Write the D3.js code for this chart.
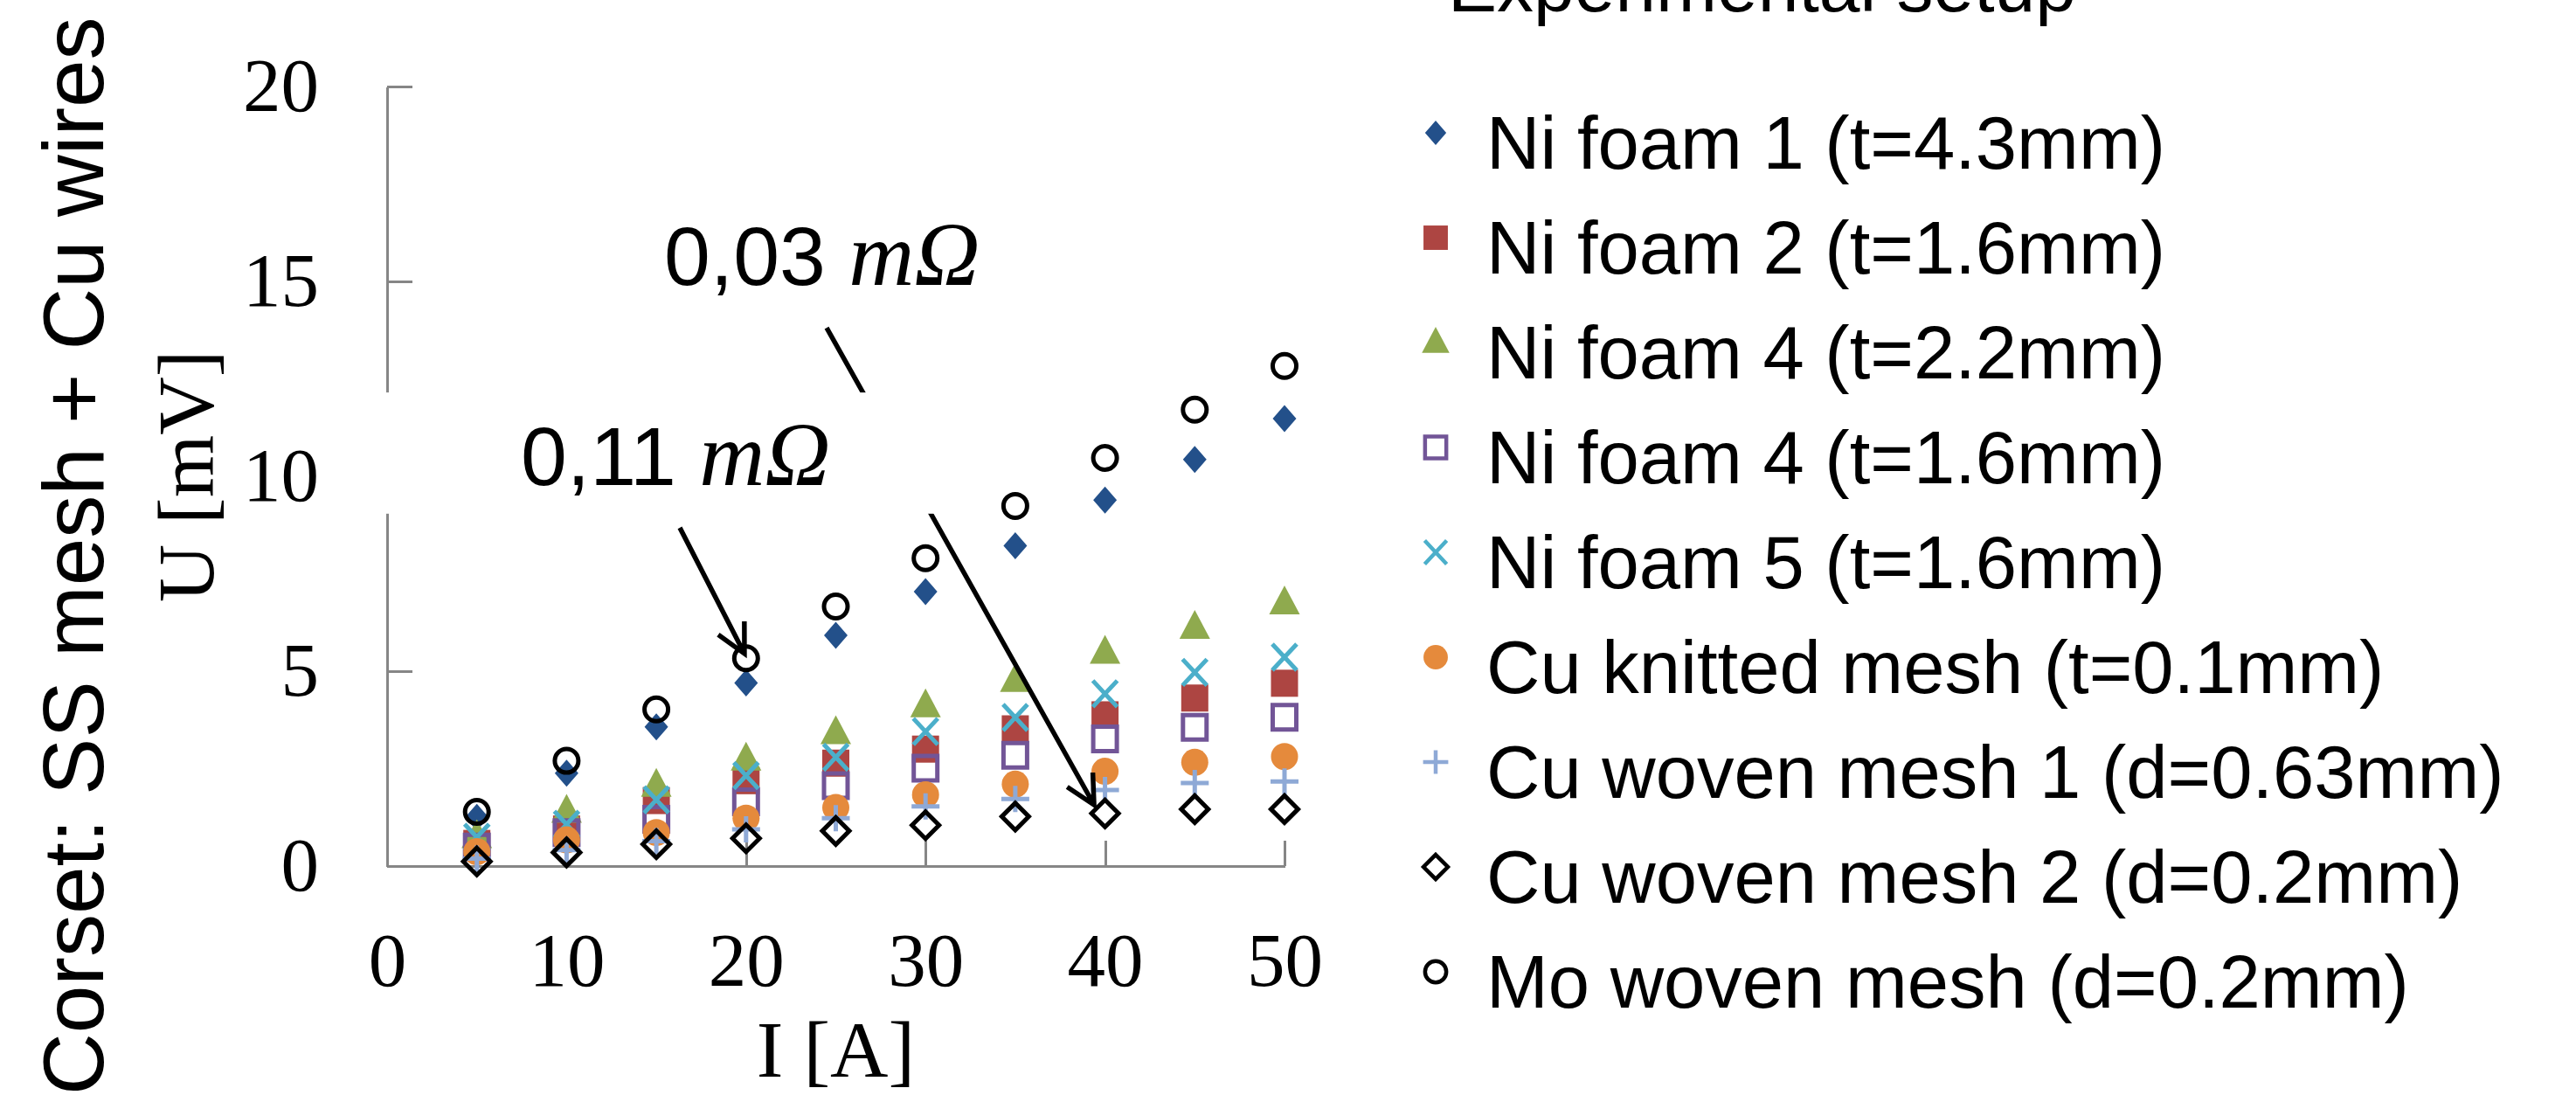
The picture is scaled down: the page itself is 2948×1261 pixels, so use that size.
<!DOCTYPE html>
<html lang="en">
<head>
	<meta charset="UTF-8">
	<title>U-I contact measurement</title>
	<style>
		body { margin: 0; background: #fff; }
		.axis path, .axis line {
			stroke: #868686;
			stroke-width: 3px;
			shape-rendering: crispEdges;
		}
		.sans { font-family: "Liberation Sans", Arial, sans-serif; }
		.serif { font-family: "Liberation Serif", "Times New Roman", serif; }
		.arrow { fill: none; stroke: #000; stroke-width: 5.5px; }
	</style>
	<script src="https://cdn.jsdelivr.net/npm/d3@7/dist/d3.min.js"></script>
</head>
<body>
	<div class="wrap"></div>
	<script>
	// measured current [A]
	var current = [5, 10, 15, 20, 25, 30, 35, 40, 45, 50];

	// measured voltage drop [mV], one array per sample
	var niFoam1    = [1.25, 2.38, 3.57, 4.70, 5.92, 7.04, 8.22, 9.39, 10.43, 11.48];
	var niFoam2    = [0.58, 0.95, 1.68, 2.19, 2.64, 3.00, 3.52, 3.88, 4.31, 4.69];
	var niFoam4a   = [0.75, 1.40, 2.07, 2.74, 3.42, 4.11, 4.76, 5.48, 6.12, 6.75];
	var niFoam4b   = [0.49, 0.86, 1.20, 1.65, 2.06, 2.51, 2.84, 3.26, 3.56, 3.82];
	var niFoam5    = [0.74, 1.07, 1.70, 2.32, 2.79, 3.45, 3.81, 4.42, 4.97, 5.36];
	var cuKnitted  = [0.37, 0.67, 0.86, 1.23, 1.50, 1.83, 2.10, 2.43, 2.66, 2.81];
	var cuWoven1   = [0.19, 0.41, 0.64, 0.94, 1.23, 1.53, 1.72, 1.95, 2.13, 2.17];
	var cuWoven2   = [0.12, 0.35, 0.56, 0.71, 0.90, 1.05, 1.27, 1.35, 1.46, 1.46];
	var moWoven    = [1.39, 2.70, 4.02, 5.33, 6.66, 7.90, 9.24, 10.47, 11.71, 12.83];

	var seriesNames = [
		"Ni foam 1 (t=4.3mm)",
		"Ni foam 2 (t=1.6mm)",
		"Ni foam 4 (t=2.2mm)",
		"Ni foam 4 (t=1.6mm)",
		"Ni foam 5 (t=1.6mm)",
		"Cu knitted mesh (t=0.1mm)",
		"Cu woven mesh 1 (d=0.63mm)",
		"Cu woven mesh 2 (d=0.2mm)",
		"Mo woven mesh (d=0.2mm)"
	];
	var xTicks = [0, 10, 20, 30, 40, 50];
	var yTicks = [0, 5, 10, 15, 20];
	var resistanceLabels = ["0,11", "0,03"];

	// marker look for each series (same order as seriesNames)
	var styles = [
		{shape: "diamond",     fill: "#23508A", stroke: "none"},
		{shape: "square",      fill: "#AD4542", stroke: "none"},
		{shape: "triangle",    fill: "#8FAA4E", stroke: "none"},
		{shape: "openSquare",  fill: "none",    stroke: "#725597"},
		{shape: "x",           fill: "none",    stroke: "#4BAFCA"},
		{shape: "circle",      fill: "#E58A3C", stroke: "none"},
		{shape: "plus",        fill: "none",    stroke: "#8EA9D6"},
		{shape: "openDiamond", fill: "none",    stroke: "#000"},
		{shape: "openCircle",  fill: "none",    stroke: "#000"}
	];

	var values = [niFoam1, niFoam2, niFoam4a, niFoam4b, niFoam5, cuKnitted, cuWoven1, cuWoven2, moWoven];
	var series = seriesNames.map(function(name, i) {
		return {
			name: name,
			style: styles[i],
			points: current.map(function(c, j) { return {i: c, u: values[i][j]}; })
		};
	});

	var W = 2948, H = 1261;
	var plot = {left: 443, right: 1470, top: 99, bottom: 991};

	var x = d3.scaleLinear().domain([0, 50]).range([plot.left, plot.right]);
	var y = d3.scaleLinear().domain([0, 20]).range([plot.bottom, plot.top]);

	// marker outlines centred on 0,0 ; s scales them (legend is a bit smaller)
	function shapePath(kind, s) {
		var p = d3.path();
		function m(a, b) { p.moveTo(a * s, b * s); }
		function l(a, b) { p.lineTo(a * s, b * s); }
		function circ(r) { p.moveTo(r * s, 0); p.arc(0, 0, r * s, 0, 2 * Math.PI); }
		switch (kind) {
			case "diamond":     m(0, -15.5); l(13.5, 0); l(0, 15.5); l(-13.5, 0); p.closePath(); break;
			case "square":      m(-15.5, -15.5); l(15.5, -15.5); l(15.5, 15.5); l(-15.5, 15.5); p.closePath(); break;
			case "triangle":    m(0, -20); l(17.5, 13); l(-17.5, 13); p.closePath(); break;
			case "openSquare":  m(-13.5, -14); l(13.5, -14); l(13.5, 14); l(-13.5, 14); p.closePath(); break;
			case "x":           m(-14, -15); l(14, 15); m(14, -15); l(-14, 15); break;
			case "circle":      circ(15.5); break;
			case "plus":        m(-16, 0); l(16, 0); m(0, -15); l(0, 15); break;
			case "openDiamond": m(0, -15.5); l(15.5, 0); l(0, 15.5); l(-15.5, 0); p.closePath(); break;
			case "openCircle":  circ(13.5); break;
		}
		return p.toString();
	}
	function strokeWidth(st) { return st.stroke === "none" ? 0 : 5; }

	var svg = d3.select(".wrap").append("svg")
		.attr("width", W)
		.attr("height", H)
		.style("background", "#fff");

	// Y axis, ticks pointing into the plot
	var yAxis = svg.append("g")
		.attr("class", "axis serif")
		.attr("transform", "translate(" + plot.left + ",0)")
		.call(d3.axisLeft(y).tickValues(yTicks).tickSize(-29).tickSizeOuter(0).tickPadding(78));
	yAxis.selectAll("text").attr("font-size", 87).attr("fill", "#000")
		.attr("font-family", "Liberation Serif, Times New Roman, serif");

	// X axis
	var xAxis = svg.append("g")
		.attr("class", "axis serif")
		.attr("transform", "translate(0," + plot.bottom + ")")
		.call(d3.axisBottom(x).tickValues(xTicks).tickSize(-29).tickSizeOuter(0).tickPadding(75));
	xAxis.selectAll("text").attr("font-size", 87).attr("fill", "#000")
		.attr("font-family", "Liberation Serif, Times New Roman, serif");

	// axis titles
	svg.append("text")
		.attr("class", "serif")
		.attr("transform", "translate(244," + y(10.0) + ") rotate(-90)")
		.attr("text-anchor", "middle")
		.attr("font-size", 92)
		.text("U [mV]");

	svg.append("text")
		.attr("class", "serif")
		.attr("x", x(25))
		.attr("y", 1232)
		.attr("text-anchor", "middle")
		.attr("font-size", 92)
		.text("I [A]");

	svg.append("text")
		.attr("class", "sans")
		.attr("transform", "translate(118,1253) rotate(-90)")
		.attr("font-size", 98)
		.text("Corset: SS mesh + Cu wires");

	// the points, series by series (later series sit on top)
	var groups = svg.selectAll("g.series").data(series).enter().append("g")
		.attr("class", "series");
	groups.selectAll("path").data(function(d) {
			return d.points.map(function(p) { return {p: p, st: d.style}; });
		}).enter().append("path")
		.attr("transform", function(d) { return "translate(" + x(d.p.i) + "," + y(d.p.u) + ")"; })
		.attr("d", function(d) { return shapePath(d.st.shape, 1); })
		.attr("fill", function(d) { return d.st.fill; })
		.attr("stroke", function(d) { return d.st.stroke; })
		.attr("stroke-width", function(d) { return strokeWidth(d.st); });

	// annotation arrows (ends given in data units)
	function arrow(from, to) {
		var x0 = x(from[0]), y0 = y(from[1]), x1 = x(to[0]), y1 = y(to[1]);
		var a = Math.atan2(y0 - y1, x0 - x1), len = 37, spread = 27 * Math.PI / 180;
		var p = d3.path();
		p.moveTo(x0, y0); p.lineTo(x1, y1);
		p.moveTo(x1 + len * Math.cos(a - spread), y1 + len * Math.sin(a - spread));
		p.lineTo(x1, y1);
		p.lineTo(x1 + len * Math.cos(a + spread), y1 + len * Math.sin(a + spread));
		svg.append("path").attr("class", "arrow").attr("d", p.toString());
	}

	arrow([24.49, 13.81], [39.39, 1.57]);

	// white text box of the 0,11 label hides the axis and the other arrow
	svg.append("rect")
		.attr("x", x(-0.9))
		.attr("y", y(12.15))
		.attr("width", x(31) - x(-0.9))
		.attr("height", y(9.04) - y(12.15))
		.attr("fill", "#fff");

	arrow([16.31, 8.68], [19.91, 5.45]);

	function resistanceLabel(txt, at) {
		var t = svg.append("text")
			.attr("x", x(at[0]))
			.attr("y", y(at[1]))
			.attr("font-size", 95);
		t.append("tspan").attr("class", "sans").text(txt + " ");
		t.append("tspan").attr("class", "serif").attr("font-style", "italic")
			.attr("font-size", 104).text("m\u03A9");
	}
	resistanceLabel(resistanceLabels[0], [7.45, 9.78]);
	resistanceLabel(resistanceLabels[1], [15.43, 14.91]);

	// legend
	svg.append("text")
		.attr("class", "sans")
		.attr("x", 1657)
		.attr("y", 13)
		.attr("font-size", 84)
		.text("Experimental setup");

	var legend = svg.selectAll("g.legend").data(series).enter().append("g")
		.attr("class", "legend")
		.attr("transform", function(d, i) { return "translate(1643," + (193 + i * 120) + ")"; });
	legend.append("path")
		.attr("transform", "translate(0,-41)")
		.attr("d", function(d) { return shapePath(d.style.shape, 0.9); })
		.attr("fill", function(d) { return d.style.fill; })
		.attr("stroke", function(d) { return d.style.stroke; })
		.attr("stroke-width", function(d) { return strokeWidth(d.style) * 0.9; });
	legend.append("text")
		.attr("class", "sans")
		.attr("x", 58)
		.attr("font-size", 85)
		.text(function(d) { return d.name; });
	</script>
</body>
</html>
